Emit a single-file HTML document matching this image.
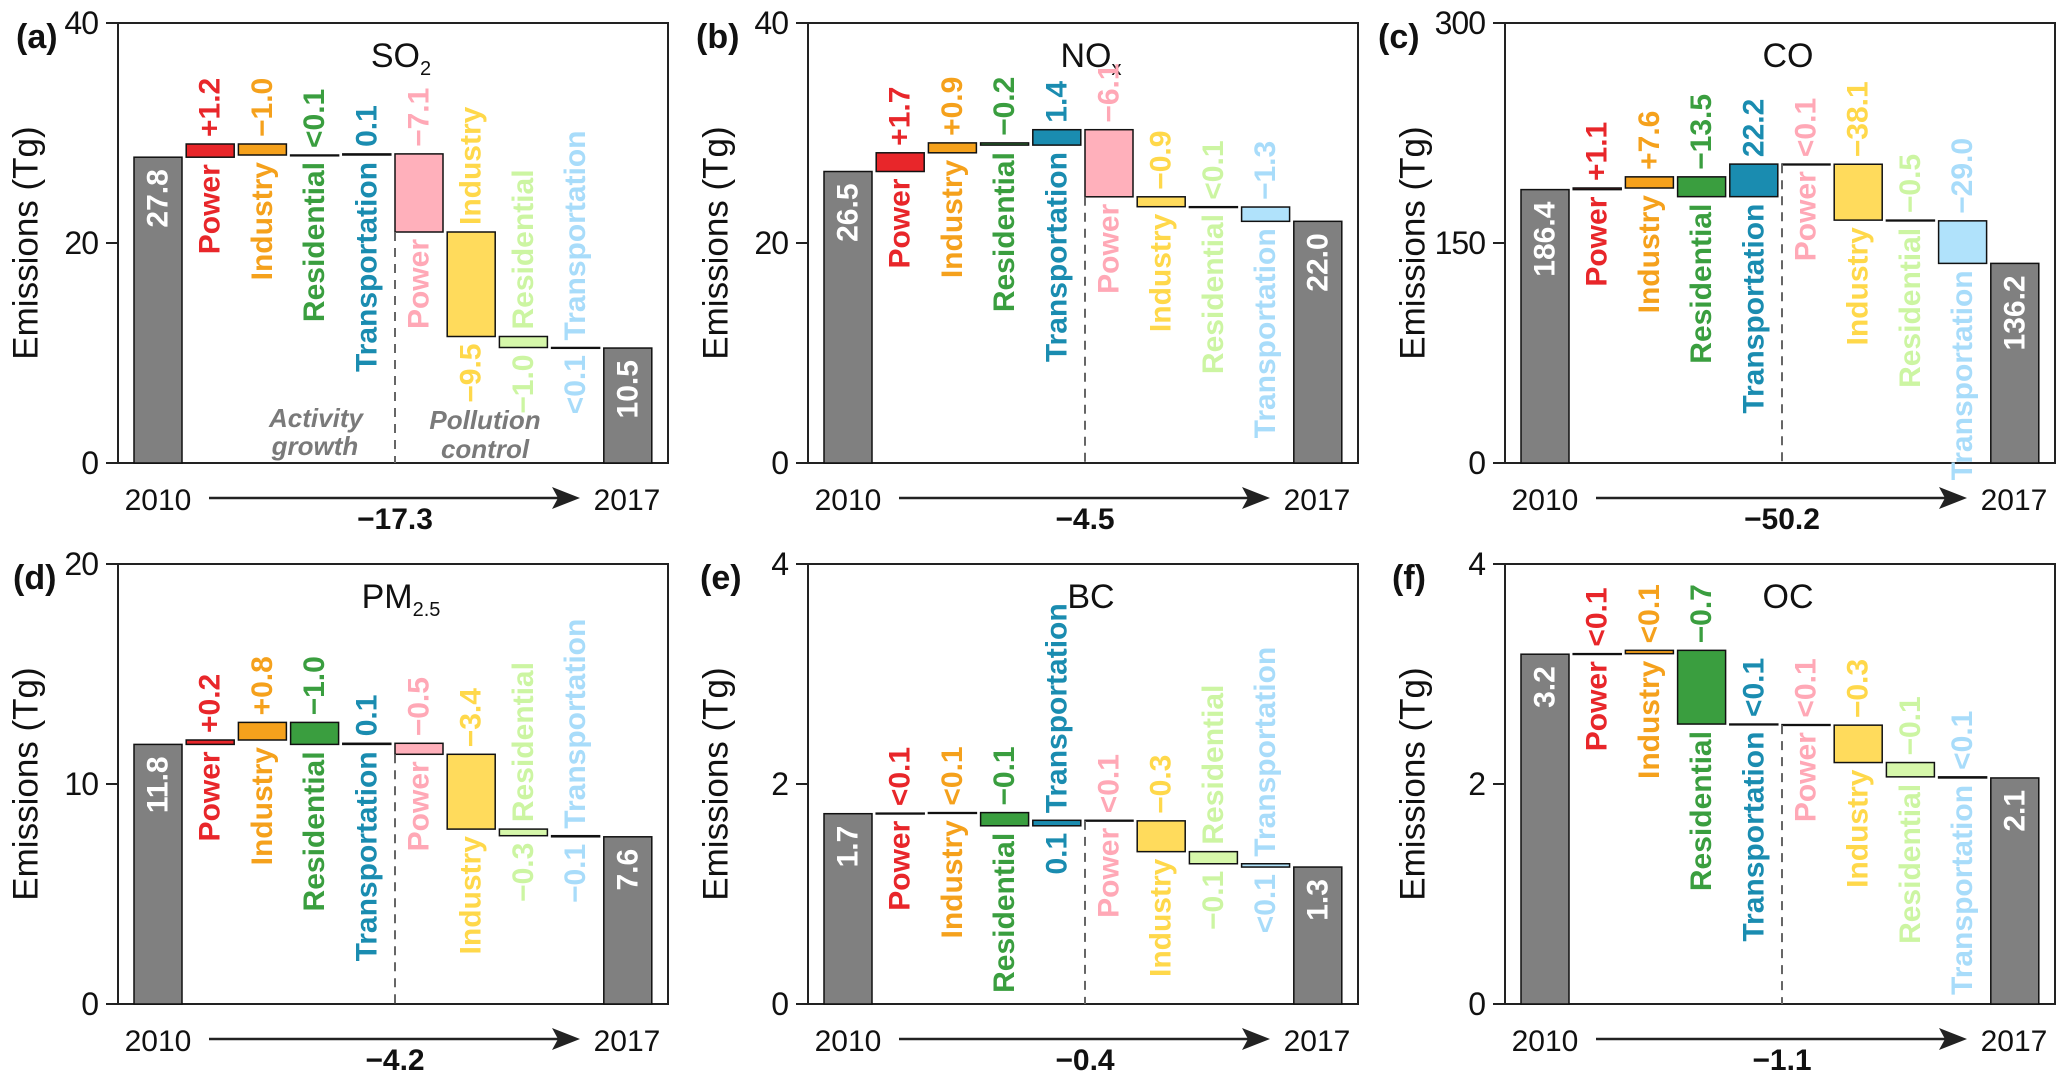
<!DOCTYPE html>
<html><head><meta charset="utf-8"><style>
html,body{margin:0;padding:0;background:#fff;}
svg{display:block;font-family:"Liberation Sans",Arial,sans-serif;}
</style></head><body>
<svg id="chart" width="2067" height="1080" viewBox="0 0 2067 1080" xmlns="http://www.w3.org/2000/svg"></svg>
<script>
// ---- data ----
const panelIds = ["a","b","c","d","e","f"];
const panelTitles = ["SO2","NOx","CO","PM2.5","BC","OC"];
const yMaxValues = [40, 40, 300, 20, 4, 4];
const yTickLabels = [["0","20","40"],["0","20","40"],["0","150","300"],["0","10","20"],["0","2","4"],["0","2","4"]];
const startValues = [27.8, 26.5, 186.4, 11.8, 1.73, 3.18];
const startLabels = ["27.8","26.5","186.4","11.8","1.7","3.2"];
const endLabels = ["10.5","22.0","136.2","7.6","1.3","2.1"];
const totalLabels = ["\u221217.3","\u22124.5","\u221250.2","\u22124.2","\u22120.4","\u22121.1"];
const deltasSO2 = [1.2, -1.0, 0, 0.1, -7.1, -9.5, -1.0, -0.05];
const deltasNOx = [1.7, 0.9, -0.2, 1.4, -6.1, -0.9, -0.03, -1.3];
const deltasCO = [1.1, 7.6, -13.5, 22.2, -0.1, -38.1, -0.5, -29.0];
const deltasPM = [0.2, 0.8, -1.0, 0.05, -0.5, -3.4, -0.3, -0.05];
const deltasBC = [0.005, 0.005, -0.12, 0.05, -0.005, -0.28, -0.11, -0.03];
const deltasOC = [0.005, 0.03, -0.67, -0.005, -0.005, -0.34, -0.13, -0.01];
const allDeltas = [deltasSO2, deltasNOx, deltasCO, deltasPM, deltasBC, deltasOC];
const labelsSO2 = ["+1.2","\u22121.0","<0.1","0.1","\u22127.1","\u22129.5","\u22121.0","<0.1"];
const labelsNOx = ["+1.7","+0.9","\u22120.2","1.4","\u22126.1","\u22120.9","<0.1","\u22121.3"];
const labelsCO = ["+1.1","+7.6","\u221213.5","22.2","<0.1","\u221238.1","\u22120.5","\u221229.0"];
const labelsPM = ["+0.2","+0.8","\u22121.0","0.1","\u22120.5","\u22123.4","\u22120.3","\u22120.1"];
const labelsBC = ["<0.1","<0.1","\u22120.1","0.1","<0.1","\u22120.3","\u22120.1","<0.1"];
const labelsOC = ["<0.1","<0.1","\u22120.7","<0.1","<0.1","\u22120.3","\u22120.1","<0.1"];
const allLabels = [labelsSO2, labelsNOx, labelsCO, labelsPM, labelsBC, labelsOC];
const valueAboveSO2 = [1,1,1,1,1,0,0,0];
const valueAboveNOx = [1,1,1,1,1,1,1,1];
const valueAboveCO = [1,1,1,1,1,1,1,1];
const valueAbovePM = [1,1,1,1,1,1,0,0];
const valueAboveBC = [1,1,1,0,1,1,0,0];
const valueAboveOC = [1,1,1,1,1,1,1,1];
const allValueAbove = [valueAboveSO2, valueAboveNOx, valueAboveCO, valueAbovePM, valueAboveBC, valueAboveOC];
const sectorNames = ["Power","Industry","Residential","Transportation","Power","Industry","Residential","Transportation"];

// ---- styles / layout ----
const fills = ["#e8262a","#f5a11c","#3a9e3f","#1a8cb0","#ffb0bb","#ffdb5c","#d6f7aa","#b0e2fb"];
const textColors = ["#e8262a","#f5a11c","#3a9e3f","#1a8cb0","#ffa8b6","#ffd84a","#ccf5a2","#a8dcfa"];
const boxX = [118, 808, 1505, 118, 808, 1505];
const boxY = [23, 23, 23, 564, 564, 564];
const tagX = [16, 696, 1378, 13, 700, 1392];
const BW = 550, BH = 440, BAR = 48, SLOT = 52.2, PAD = 16;

const svg = document.getElementById('chart');
const NS = 'http://www.w3.org/2000/svg';
function mk(tag, attrs, parent){
  const e = document.createElementNS(NS, tag);
  for (const k in attrs) e.setAttribute(k, attrs[k]);
  (parent||svg).appendChild(e);
  return e;
}

panelIds.forEach((pid, p) => {
  const ox = boxX[p], oy = boxY[p], ymax = yMaxValues[p];
  const g = mk('g', {});
  
  
  const yS = v => oy + BH - v / ymax * BH;
  const xS = i => ox + PAD + i * SLOT;

  const fr = mk('rect', {x: ox, y: oy, width: BW, height: BH, fill: 'none', stroke: '#222', 'stroke-width': 2}, g);
  
  

  yTickLabels[p].forEach((lab, k) => {
    const v = ymax * k / 2;
    const ty = yS(v);
    const tl = mk('line', {x1: ox - 12, x2: ox, y1: ty, y2: ty, stroke: '#222', 'stroke-width': 2}, g);
    
    
    const tt = mk('text', {x: ox - 20, y: ty, 'text-anchor': 'end', 'dominant-baseline': 'central', 'font-size': 32, fill: '#111', 'letter-spacing': -1}, g);
    tt.textContent = lab;
    
    
  });

  const yt = mk('text', {x: ox - 92, y: oy + BH/2, 'text-anchor': 'middle', 'dominant-baseline': 'central', 'font-size': 35, fill: '#111', transform: `rotate(-90 ${ox-92} ${oy+BH/2})`}, g);
  yt.textContent = 'Emissions (Tg)';
  
  

  const tg = mk('text', {x: tagX[p], y: oy + 25, 'font-size': 34, 'font-weight': 'bold', fill: '#111'}, g);
  tg.textContent = '(' + pid + ')';
  
  

  const tt = mk('text', {x: ox + 283, y: oy + 44, 'text-anchor': 'middle', 'font-size': 34, fill: '#111'}, g);
  
  
  const title = panelTitles[p];
  const subs = {"SO2": ["SO","2"], "NOx": ["NO","x"], "PM2.5": ["PM","2.5"]};
  if (subs[title]) {
    const a = mk('tspan', {}, tt); a.textContent = subs[title][0];
    const b = mk('tspan', {'font-size': 20, dy: 8}, tt); b.textContent = subs[title][1];
  } else tt.textContent = title;

  const s0 = startValues[p];
  const sb = mk('rect', {x: xS(0), y: yS(s0), width: BAR, height: yS(0) - yS(s0), fill: '#808080', stroke: '#111', 'stroke-width': 1.5}, g);
  
  
  const sl = mk('text', {x: xS(0) + BAR/2, y: yS(s0) + 12, 'text-anchor': 'end', 'dominant-baseline': 'central', 'font-size': 30, 'font-weight': 'bold', fill: '#fff', transform: `rotate(-90 ${xS(0)+BAR/2} ${yS(s0)+12})`}, g);
  sl.textContent = startLabels[p];
  
  

  let level = s0;
  const deltas = allDeltas[p];
  let dashTop = 0;
  deltas.forEach((d, i) => {
    const a = level, b = level + d;
    level = b;
    const top = yS(Math.max(a, b)), bot = yS(Math.min(a, b));
    const x = xS(i + 1), cx = x + BAR/2;
    const r = mk('rect', {x: x, y: top, width: BAR, height: Math.max(bot - top, 0.8), fill: fills[i], stroke: '#111', 'stroke-width': 1.5}, g);
    
    
    if (i === 4) dashTop = bot;
    const above = allValueAbove[p][i];
    const upText = above ? allLabels[p][i] : sectorNames[i];
    const downText = above ? sectorNames[i] : allLabels[p][i];
    const ty1 = top - 7, ty2 = bot + 7;
    const t1 = mk('text', {x: cx, y: ty1, 'text-anchor': 'start', 'dominant-baseline': 'central', 'font-size': 30, 'font-weight': 'bold', fill: textColors[i], transform: `rotate(-90 ${cx} ${ty1})`}, g);
    t1.textContent = upText;
    
    
    const t2 = mk('text', {x: cx, y: ty2, 'text-anchor': 'end', 'dominant-baseline': 'central', 'font-size': 30, 'font-weight': 'bold', fill: textColors[i], transform: `rotate(-90 ${cx} ${ty2})`}, g);
    t2.textContent = downText;
    
    
  });

  const dl = mk('line', {x1: xS(5), x2: xS(5), y1: dashTop, y2: oy + BH, stroke: '#666', 'stroke-width': 2, 'stroke-dasharray': '9,7'}, g);
  
  

  const e0 = level;
  const eb = mk('rect', {x: xS(9), y: yS(e0), width: BAR, height: yS(0) - yS(e0), fill: '#808080', stroke: '#111', 'stroke-width': 1.5}, g);
  
  
  const el = mk('text', {x: xS(9) + BAR/2, y: yS(e0) + 12, 'text-anchor': 'end', 'dominant-baseline': 'central', 'font-size': 30, 'font-weight': 'bold', fill: '#fff', transform: `rotate(-90 ${xS(9)+BAR/2} ${yS(e0)+12})`}, g);
  el.textContent = endLabels[p];
  
  

  const y1 = mk('text', {x: ox + 40, y: oy + 487, 'text-anchor': 'middle', 'font-size': 30, fill: '#111'}, g);
  y1.textContent = '2010';
  
  
  const y2 = mk('text', {x: ox + 509, y: oy + 487, 'text-anchor': 'middle', 'font-size': 30, fill: '#111'}, g);
  y2.textContent = '2017';
  
  
  const ay = oy + 475;
  const al = mk('line', {x1: ox + 91, x2: ox + 440, y1: ay, y2: ay, stroke: '#222', 'stroke-width': 2.5}, g);
  
  
  const ah = mk('polygon', {points: `${ox+462},${ay} ${ox+434},${ay-11} ${ox+440},${ay} ${ox+434},${ay+11}`, fill: '#222'}, g);
  
  
  const tot = mk('text', {x: ox + 277, y: oy + 506, 'text-anchor': 'middle', 'font-size': 30, 'font-weight': 'bold', fill: '#111'}, g);
  tot.textContent = totalLabels[p];
  
  
});

[["Activity", 316, 427], ["growth", 315, 455], ["Pollution", 485, 429], ["control", 485, 458]].forEach(a => {
  const t = mk('text', {x: a[1], y: a[2], 'text-anchor': 'middle', 'font-size': 26, 'font-weight': 'bold', 'font-style': 'italic', fill: '#7a7a7a'});
  t.textContent = a[0];
  
  
});
</script>
</body></html>
